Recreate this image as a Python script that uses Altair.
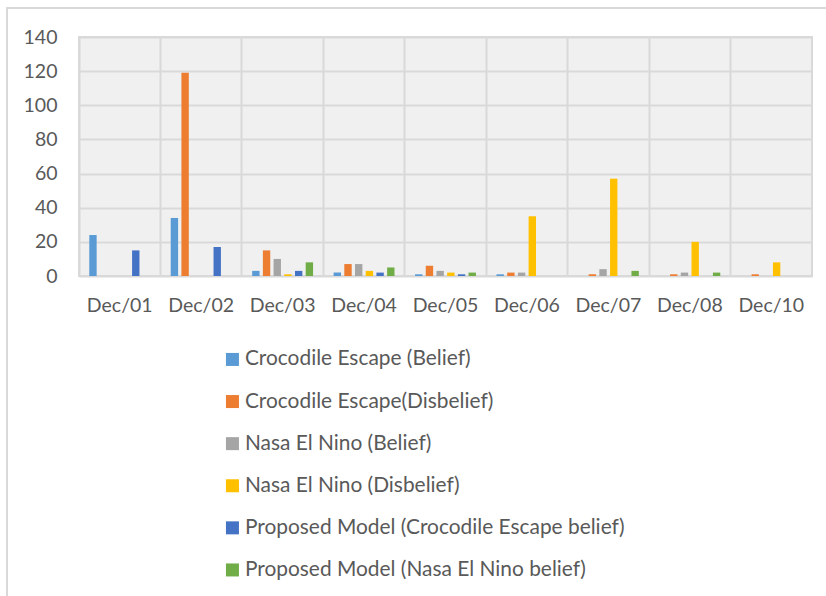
import altair as alt
import pandas as pd

dates = ["Dec/01", "Dec/02", "Dec/03", "Dec/04", "Dec/05", "Dec/06", "Dec/07", "Dec/08", "Dec/10"]
series = [
    "Crocodile Escape (Belief)",
    "Crocodile Escape(Disbelief)",
    "Nasa El Nino (Belief)",
    "Nasa El Nino (Disbelief)",
    "Proposed Model (Crocodile Escape belief)",
    "Proposed Model (Nasa El Nino belief)",
]
colors = ["#5B9BD5", "#ED7D31", "#A5A5A5", "#FFC000", "#4472C4", "#70AD47"]

ce_belief = [24, 34, 3, 2, 1, 1, 0, 0, 0]
ce_disbelief = [0, 119, 15, 7, 6, 2, 1, 1, 1]
nen_belief = [0, 0, 10, 7, 3, 2, 4, 2, 0]
nen_disbelief = [0, 0, 1, 3, 2, 35, 57, 20, 8]
pm_ce_belief = [15, 17, 3, 2, 1, 0, 0, 0, 0]
pm_nen_belief = [0, 0, 8, 5, 2, 0, 3, 2, 0]

all_values = [ce_belief, ce_disbelief, nen_belief, nen_disbelief, pm_ce_belief, pm_nen_belief]
rows = []
for s, vals in zip(series, all_values):
    for d, v in zip(dates, vals):
        rows.append({"date": d, "series": s, "value": v})
df = pd.DataFrame(rows)

FONT = "Lato"
TXT = "#595959"
GRID = "#d9d9d9"

bars = alt.Chart(df).mark_bar().encode(
    x=alt.X("date:N", sort=dates, title=None,
            scale=alt.Scale(paddingInner=0, paddingOuter=0),
            axis=alt.Axis(labelAngle=0, labelFont=FONT, labelFontSize=19.5, labelColor=TXT,
                          labelPadding=20, ticks=False, domain=False, grid=True,
                          gridColor=GRID, gridWidth=2, bandPosition=0)),
    xOffset=alt.XOffset("series:N", sort=series,
                        scale=alt.Scale(paddingInner=0.31, paddingOuter=0.96)),
    y=alt.Y("value:Q", title=None,
            scale=alt.Scale(domain=[0, 140], nice=False),
            axis=alt.Axis(values=[0, 20, 40, 60, 80, 100, 120, 140], labelFont=FONT,
                          labelFontSize=19.5, labelColor=TXT, labelPadding=22, ticks=False,
                          domain=False, grid=True, gridColor=GRID, gridWidth=2)),
    color=alt.Color("series:N", sort=series,
                    scale=alt.Scale(domain=series, range=colors),
                    legend=alt.Legend(title=None, orient="none", legendX=143, legendY=312,
                                      direction="vertical", symbolType="square",
                                      symbolSize=169, symbolStrokeWidth=0,
                                      labelFont=FONT, labelFontSize=20.9, labelColor=TXT,
                                      labelOffset=2, rowPadding=20.1, padding=0,
                                      labelLimit=600)),
)

frame = alt.Chart(alt.Data(values=[{"a": 1}])).mark_rect(
    fill=None, stroke=GRID, strokeWidth=2
).encode(
    x=alt.value(-72), x2=alt.value(900), y=alt.value(-29), y2=alt.value(700)
)

chart = alt.layer(frame, bars).properties(
    width=733, height=239,
    autosize=alt.AutoSizeParams(type="none"),
    padding={"left": 79, "top": 37, "right": 14, "bottom": 320},
    background="white",
).configure_view(
    fill="#f0f0f0", stroke=GRID, strokeWidth=2
)

chart.save("out.html", embed_options={"renderer": "svg", "actions": False})
